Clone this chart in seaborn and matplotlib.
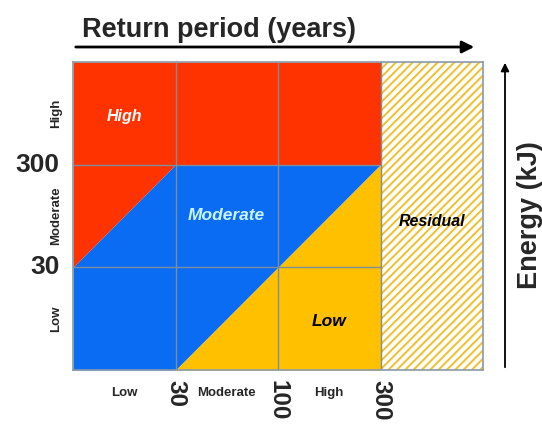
import numpy as np
import matplotlib
matplotlib.use("Agg")
import matplotlib.pyplot as plt
from matplotlib.patches import Rectangle, FancyArrowPatch
import seaborn as sns

period_classes = ["Low", "Moderate", "High"]
period_breaks = ["30", "100", "300"]
energy_classes = ["Low", "Moderate", "High"]
energy_breaks = ["30", "300"]
zone_names = ["High", "Moderate", "Low"]
zone_colors = ["#ff3300", "#0a6cf2", "#ffc000"]
# diagonal zone limits: energy index = period index + offset
zone_offsets = [1, -1]

sns.set_theme(style="white")
plt.rcParams["font.family"] = ["Liberation Sans", "DejaVu Sans"]
plt.rcParams["hatch.linewidth"] = 1.4

fig = plt.figure(figsize=(5.42, 4.24), dpi=100)
ax = fig.add_axes([73 / 542, 1 - 370 / 424, 410 / 542, 308 / 424])

n_p = len(period_classes)
n_e = len(energy_classes)
x = np.arange(n_p + 1)
top = np.full(x.shape, n_e)
red_low = np.clip(x + zone_offsets[0], 0, n_e - 1)
orange_top = np.clip(x + zone_offsets[1], 0, n_e - 1)

ax.fill_between(x, red_low, top, color=zone_colors[0], lw=0)
ax.fill_between(x, orange_top, red_low, color=zone_colors[1], lw=0)
ax.fill_between(x, 0, orange_top, color=zone_colors[2], lw=0)

# residual column
ax.add_patch(Rectangle((n_p, 0), 1, n_e, facecolor="white", edgecolor="#f2bf2a",
                       hatch="////", lw=0))

grid_c = "#7d8d9c"
for i in range(1, n_p + 1):
    ax.plot([i, i], [0, n_e], color=grid_c, lw=1)
for j in range(1, n_e):
    ax.plot([0, n_p], [j, j], color=grid_c, lw=1)

ax.set_xlim(0, n_p + 1)
ax.set_ylim(0, n_e)
ax.set_xticks([])
ax.set_yticks([])
for s in ax.spines.values():
    s.set_color("#8a9aa8")
    s.set_linewidth(1.2)

# zone labels
ax.text(0.5, 2.47, zone_names[0], color="white", fontsize=11.5, fontweight="bold",
        fontstyle="italic", ha="center", va="center")
ax.text(1.5, 1.5, zone_names[1], color="#c8f4ff", fontsize=12.5, fontweight="bold",
        fontstyle="italic", ha="center", va="center")
ax.text(2.5, 0.47, zone_names[2], color="black", fontsize=12.5, fontweight="bold",
        fontstyle="italic", ha="center", va="center")
ax.text(3.5, 1.45, "Residual", color="black", fontsize=11.5, fontweight="bold",
        fontstyle="italic", ha="center", va="center")

# bottom axis labels
for i, lab in enumerate(period_classes):
    ax.text(i + 0.5, -0.22, lab, fontsize=9.5, fontweight="bold",
            ha="center", va="center", clip_on=False)
for i, lab in enumerate(period_breaks):
    ax.text(i + 1, -0.1, lab, fontsize=17.5, fontweight="bold", rotation=-90,
            ha="center", va="top", clip_on=False)

# left axis labels
for j, lab in enumerate(energy_classes):
    ax.text(-0.16, j + 0.5, lab, fontsize=9.5, fontweight="bold", rotation=90,
            ha="center", va="center", clip_on=False)
for j, lab in enumerate(energy_breaks):
    ax.text(-0.13, j + 1, lab, fontsize=19, fontweight="bold",
            ha="right", va="center", clip_on=False)

# arrows and axis titles
fig.text(82 / 542, 1 - 30 / 424, "Return period (years)", fontsize=19.5,
         fontweight="bold", ha="left", va="center")
fig.patches.append(FancyArrowPatch(
    (73 / 542, 1 - 47 / 424), (477 / 542, 1 - 47 / 424),
    transform=fig.transFigure, arrowstyle="-|>", mutation_scale=18,
    color="black", lw=2))
fig.patches.append(FancyArrowPatch(
    (505 / 542, 1 - 370 / 424), (505 / 542, 1 - 60 / 424),
    transform=fig.transFigure, arrowstyle="-|>", mutation_scale=12,
    color="black", lw=1.3))
fig.text(530 / 542, 1 - 215 / 424, "Energy (kJ)", fontsize=19.5,
         fontweight="bold", rotation=90, ha="center", va="center")

fig.savefig("out.png", dpi=100, facecolor="white")
